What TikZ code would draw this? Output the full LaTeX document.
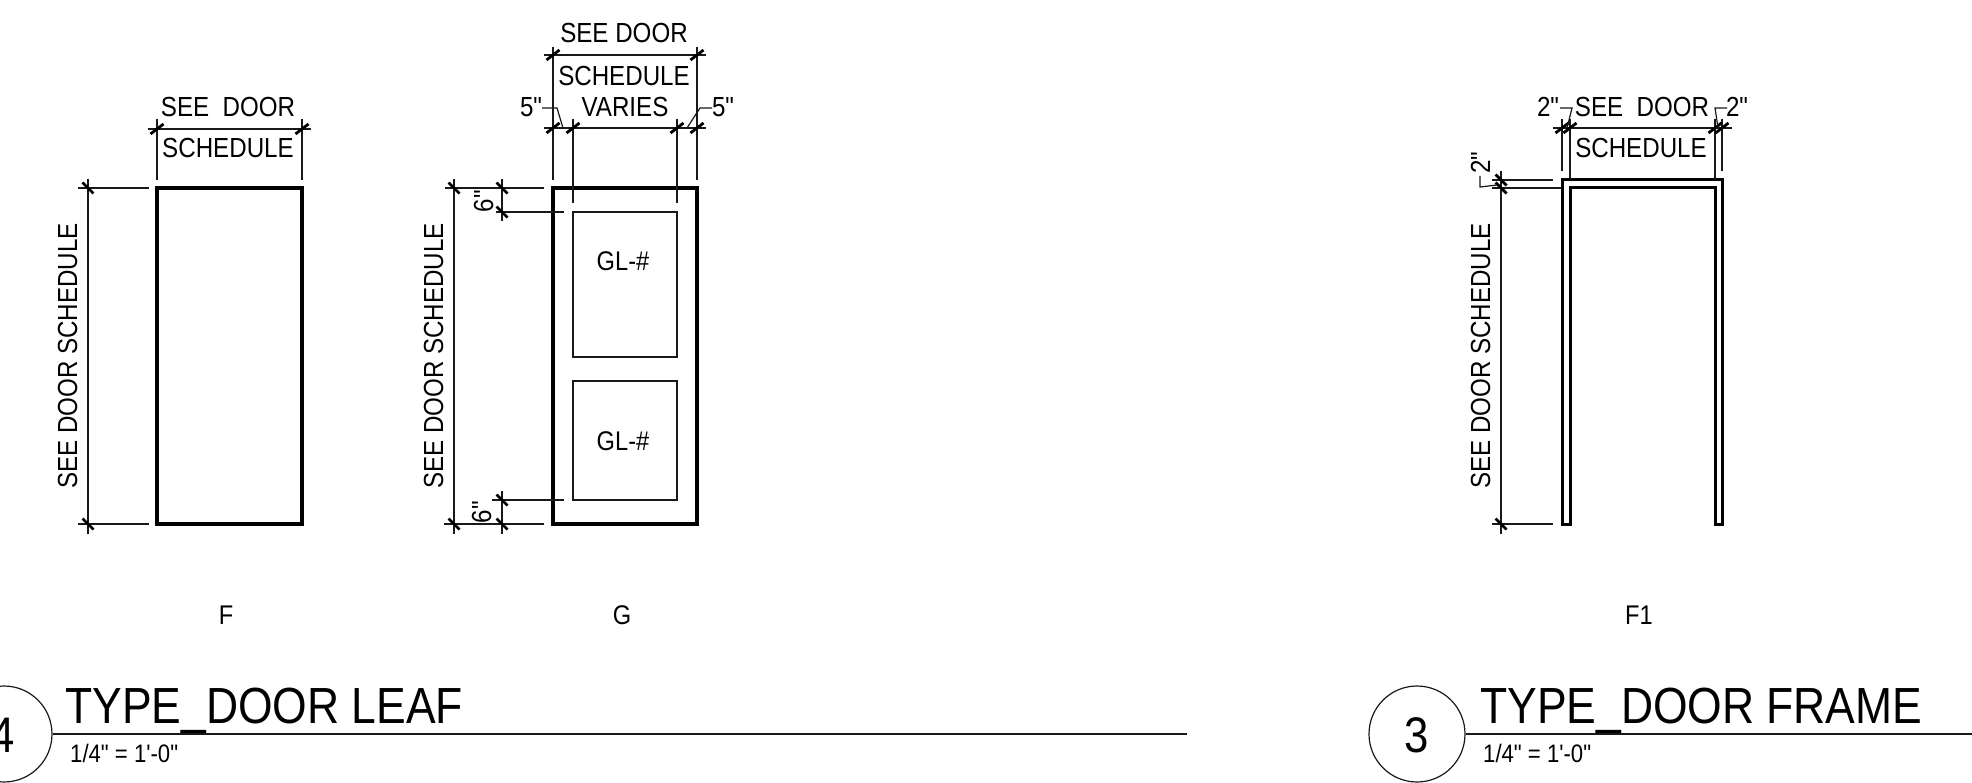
\documentclass[tikz,border=0pt]{standalone}
\usepackage{fontspec}
\setmainfont{Liberation Sans}
\newfontfamily\cad[FakeStretch=0.875]{Liberation Sans}
\newcommand{\dimtext}{\cad\fontsize{27.6}{27.6}\selectfont}
\newcommand{\smalltext}{\cad\fontsize{25.3}{25.3}\selectfont}
\newcommand{\marktext}{\cad\fontsize{27}{27}\selectfont}
\newcommand{\titletext}{\cad\fontsize{50.8}{50.8}\selectfont}
\newcommand{\numtext}{\cad\fontsize{50}{50}\selectfont}
\newcommand{\ticka}[2]{\draw[tickline] (#1-6.5,#2+5) -- (#1+6.5,#2-5);}
\newcommand{\tickb}[2]{\draw[tickline] (#1-5.5,#2-5.5) -- (#1+5.5,#2+5.5);}
\tikzset{
  x=1pt,y=-1pt,
  thin line/.style={line width=1.2pt,black!90},
  tickline/.style={line width=2.8pt,black},
  heavy/.style={line width=3.4pt,black,line join=miter},
  dimlabel/.style={anchor=base,inner sep=0pt,font=\dimtext,yshift=1pt},
  marklabel/.style={anchor=base,inner sep=0pt,font=\marktext},
  smalllabel/.style={anchor=base west,inner sep=0pt,font=\smalltext},
  titlelabel/.style={anchor=base west,inner sep=0pt,font=\titletext},
}
\begin{document}
\begin{tikzpicture}
\useasboundingbox (0,0) rectangle (1972,783);
\clip (0,0) rectangle (1972,783);
\begin{scope}[yshift=-1pt]
% --- Door F
\draw[heavy] (157,187) rectangle (302,523);
\draw[thin line] (148,128) -- (311,128);
\draw[thin line] (157,118) -- (157,179) (302,118) -- (302,179);
\ticka{157}{128}\ticka{302}{128}
\node[dimlabel] (f1) at (228,117) {SEE\ \ DOOR};
\node[dimlabel] (f2) at (228,158) {SCHEDULE};
\draw[thin line] (78,187) -- (149,187) (78,523) -- (149,523);
\draw[thin line] (88,178) -- (88,533);
\tickb{88}{187}\tickb{88}{523}
\node[dimlabel,rotate=90] (f3) at (77,356) {SEE DOOR SCHEDULE};
\node[marklabel] (f4) at (226,623) {F};
% --- Door G
\draw[heavy] (553,187) rectangle (697,523);
\draw[thin line] (573,211) rectangle (677,356);
\draw[thin line] (573,380) rectangle (677,499);
\draw[thin line] (544,54) -- (706,54);
\draw[thin line] (553,46) -- (553,179) (697,46) -- (697,179);
\draw[thin line] (544,127) -- (706,127);
\draw[thin line] (573,118) -- (573,202) (677,118) -- (677,202);
\ticka{553}{54}\ticka{697}{54}
\ticka{553}{127}\ticka{573}{127}\ticka{677}{127}\ticka{697}{127}
\draw[thin line] (542,107) -- (557,107) -- (563,127);
\draw[thin line] (712,107) -- (700,107) -- (687,127);
\node[dimlabel] (g1) at (624,43) {SEE DOOR};
\node[dimlabel] (g2) at (624,86) {SCHEDULE};
\node[dimlabel] (g3) at (625,117) {VARIES};
\node[dimlabel] (g4) at (531,117) {5"};
\node[dimlabel] (g5) at (723,117) {5"};
\draw[thin line] (445,187) -- (544,187) (444,523) -- (544,523);
\draw[thin line] (454,178) -- (454,533);
\tickb{454}{187}\tickb{454}{523}
\draw[thin line] (502,178) -- (502,220);
\draw[thin line] (496,211) -- (564,211);
\tickb{502}{187}\tickb{502}{211}
\draw[thin line] (502,490) -- (502,533);
\draw[thin line] (492,499) -- (564,499);
\tickb{502}{499}\tickb{502}{523}
\node[dimlabel,rotate=90] (g6) at (493,201) {6"};
\node[dimlabel,rotate=90] (g7) at (491,512) {6"};
\node[dimlabel,rotate=90] (g8) at (443,356) {SEE DOOR SCHEDULE};
\node[marklabel] (g9) at (622,623) {G};
\node[marklabel] (g10) at (623,270) {GL-\#};
\node[marklabel] (g11) at (623,449) {GL-\#};
% --- Frame F1
\draw[heavy,line width=3pt] (1562,523) -- (1562,179) -- (1722,179) -- (1722,523) -- (1715,523) -- (1715,187) -- (1570,187) -- (1570,523) -- cycle;
\draw[thin line] (1553,127) -- (1732,127);
\draw[thin line] (1562,118) -- (1562,170) (1722,118) -- (1722,170);
\draw[thin line] (1570,118) -- (1570,178) (1715,118) -- (1715,178);
\ticka{1562}{127}\ticka{1570}{127}\ticka{1715}{127}\ticka{1722}{127}
\draw[thin line] (1560,107) -- (1572,107) -- (1567,127);
\draw[thin line] (1727,107) -- (1715,107) -- (1718,127);
\node[dimlabel] (h1) at (1548,117) {2"};
\node[dimlabel] (h2) at (1737,117) {2"};
\node[dimlabel] (h3) at (1642,117) {SEE\ \ DOOR};
\node[dimlabel] (h4) at (1641,158) {SCHEDULE};
\draw[thin line] (1492,179) -- (1553,179) (1492,187) -- (1562,187) (1492,523) -- (1553,523);
\draw[thin line] (1501,170) -- (1501,533);
\tickb{1501}{179}\tickb{1501}{187}\tickb{1501}{523}
\draw[thin line] (1480,175) -- (1480,186) -- (1497,184);
\node[dimlabel,rotate=90] (h5) at (1490,163) {2"};
\node[dimlabel,rotate=90] (h6) at (1490,356) {SEE DOOR SCHEDULE};
\node[marklabel] (h7) at (1639,623) {F1};
% --- Titles
\node[circle,draw,thin line,minimum size=96pt,inner sep=0pt] (c4) at (4,733) {};
\node[anchor=base,inner sep=0pt,font=\numtext] (n4) at (3,751) {4};
\draw[thin line] (c4.east) -- (1187,733);
\node[titlelabel] (t4) at (65,722) {TYPE\_DOOR LEAF};
\node[smalllabel] (s4) at (70,761) {1/4" = 1'-0"};
\node[circle,draw,thin line,minimum size=96pt,inner sep=0pt] (c3) at (1417,733) {};
\node[anchor=base,inner sep=0pt,font=\numtext] (n3) at (1417,751) {3};
\draw[thin line] (c3.east) -- (1972,733);
\node[titlelabel] (t3) at (1480,722) {TYPE\_DOOR FRAME};
\node[smalllabel] (s3) at (1483,761) {1/4" = 1'-0"};
\end{scope}
\end{tikzpicture}
\end{document}
